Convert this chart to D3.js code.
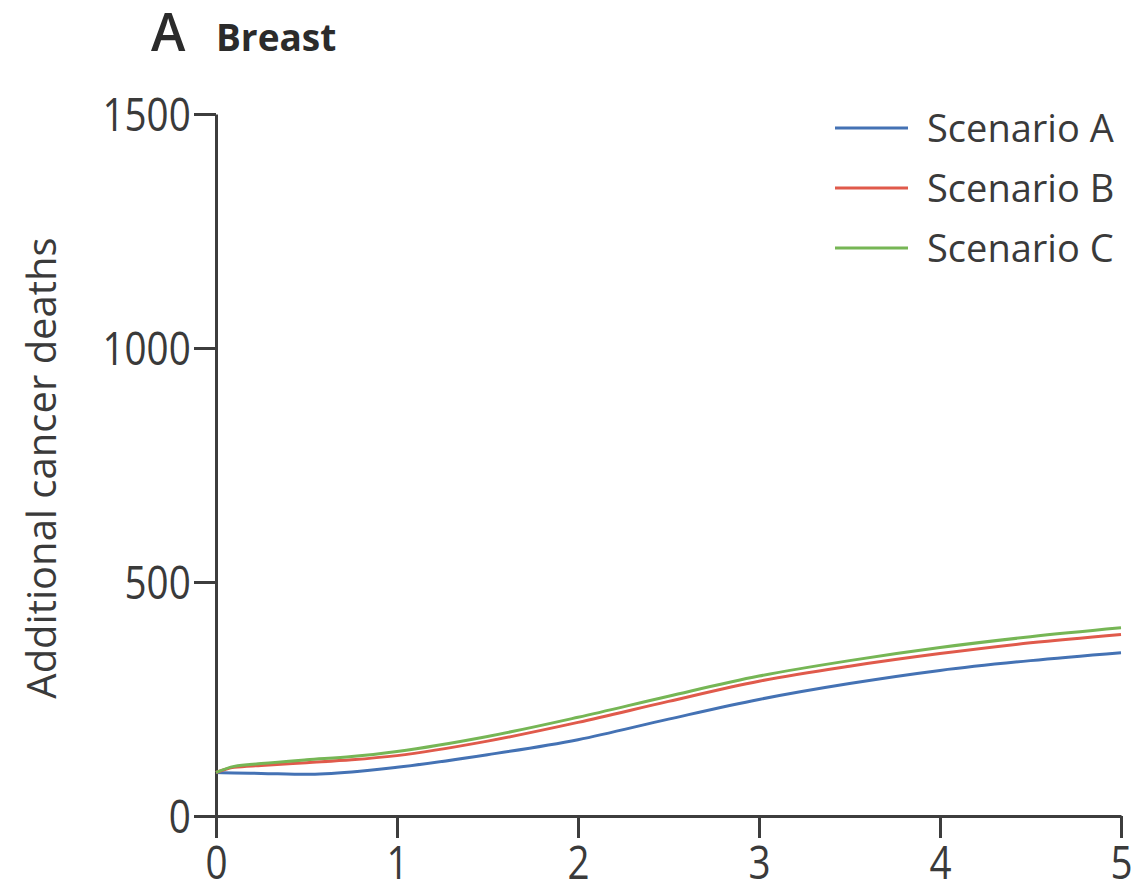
<!DOCTYPE html>
<html>
<head>
<meta charset="utf-8">
<script src="https://cdn.jsdelivr.net/npm/d3@7"></script>
<style>
  body { margin: 0; background: #fff; }
  svg { display: block; font-family: "Open Sans", sans-serif; }
</style>
</head>
<body>
<svg id="chart" width="1133" height="885"></svg>
<script>
const years = [0, 0.1, 0.25, 0.5, 0.75, 1, 1.5, 2, 2.5, 3, 3.5, 4, 4.5, 5];
const scenarioA = [93, 92, 91, 89, 94, 104, 131, 163, 207, 249, 283, 311, 332, 349];
const scenarioB = [93, 104, 108, 114, 120, 129, 160, 200, 245, 288, 320, 347, 370, 388];
const scenarioC = [93, 106, 112, 120, 127, 138, 170, 211, 256, 299, 332, 360, 383, 402];
const seriesNames = ["Scenario A", "Scenario B", "Scenario C"];
const seriesColors = ["#4472b4", "#e05a4b", "#76b655"];
const yTicks = [0, 500, 1000, 1500];
const xTicks = [0, 1, 2, 3, 4, 5];

const svg = d3.select("#chart");
const axisColor = "#3d3d3d";
const textColor = "#3a3a3a";

const x = d3.scaleLinear().domain([0, 5]).range([216, 1121]);
const y = d3.scaleLinear().domain([0, 1500]).range([816, 114]);

// title
svg.append("text")
  .attr("x", 151).attr("y", 51)
  .style("font-size", "52px").style("font-weight", "600")
  .style("fill", "#2b2b2b")
  .text("A");
svg.append("text")
  .attr("x", 216).attr("y", 51)
  .style("font-size", "37px").style("font-weight", "700")
  .style("fill", "#2b2b2b")
  .text("Breast");

// axes
const yAxis = svg.append("g")
  .attr("transform", `translate(${x(0)},0)`)
  .call(d3.axisLeft(y).tickValues(yTicks).tickFormat(d3.format("d"))
    .tickSize(22).tickSizeOuter(0).tickPadding(8));
const xAxis = svg.append("g")
  .attr("transform", `translate(0,${y(0)})`)
  .call(d3.axisBottom(x).tickValues(xTicks).tickFormat(d3.format("d"))
    .tickSize(22).tickSizeOuter(0));

[yAxis, xAxis].forEach((g) => {
  g.select(".domain").attr("stroke", axisColor).attr("stroke-width", 3);
  g.selectAll(".tick line").attr("stroke", axisColor).attr("stroke-width", 3);
  g.selectAll(".tick text")
    .style("font-family", "Open Sans, sans-serif")
    .style("font-size", "46px")
    .style("fill", textColor);
});
yAxis.selectAll(".tick text").attr("dy", "0.36em").attr("transform", "scale(0.84,1)");
xAxis.selectAll(".tick text").attr("y", 63).attr("dy", 0).attr("transform", "scale(0.84,1)");

// y axis title
svg.append("text")
  .attr("transform", `translate(56,${(y(0) + y(1500)) / 2 + 3}) rotate(-90)`)
  .style("text-anchor", "middle")
  .style("font-size", "40px")
  .style("fill", textColor)
  .text("Additional cancer deaths");

// lines
const allSeries = [scenarioA, scenarioB, scenarioC];
const line = d3.line()
  .x((d, i) => x(years[i]))
  .y((d) => y(d))
  .curve(d3.curveMonotoneX);

svg.append("g")
  .selectAll("path")
  .data(allSeries)
  .join("path")
  .attr("d", (d) => line(d))
  .attr("fill", "none")
  .attr("stroke", (d, i) => seriesColors[i])
  .attr("stroke-width", 3);

// legend
const legend = svg.append("g").attr("transform", "translate(835,128)");
const items = legend.selectAll("g")
  .data(seriesNames)
  .join("g")
  .attr("transform", (d, i) => `translate(0,${i * 60})`);
items.append("line")
  .attr("x1", 0).attr("x2", 73)
  .attr("y1", 0).attr("y2", 0)
  .attr("stroke", (d, i) => seriesColors[i])
  .attr("stroke-width", 3);
items.append("text")
  .attr("x", 92).attr("y", 0).attr("dy", "0.36em")
  .style("font-size", "38px")
  .style("fill", textColor)
  .text((d) => d);
</script>
</body>
</html>
